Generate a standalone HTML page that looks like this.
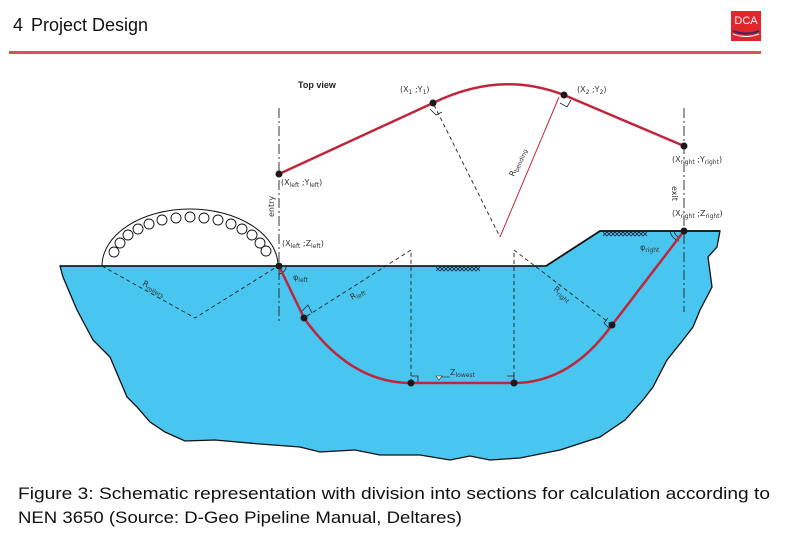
<!DOCTYPE html>
<html><head><meta charset="utf-8"><style>
html,body{margin:0;padding:0;background:#fff;width:792px;height:557px;overflow:hidden}
svg{display:block}
.t{font-family:"DejaVu Sans","Liberation Sans",sans-serif;font-size:8px;fill:#333}
.s{font-size:6px}
</style></head><body>
<svg width="792" height="557" viewBox="0 0 792 557" xmlns="http://www.w3.org/2000/svg">
<!-- header -->
<text x="13" y="31" font-family="Liberation Sans,sans-serif" font-size="18" fill="#111">4</text>
<text x="31" y="31" font-family="Liberation Sans,sans-serif" font-size="18" fill="#111">Project Design</text>
<rect x="9" y="51" width="752" height="3" fill="#d9534f"/>
<rect x="731" y="11" width="30" height="30" fill="#e3262b"/>
<text x="746" y="24" text-anchor="middle" font-family="Liberation Sans,sans-serif" font-size="11" fill="#fff">DCA</text>
<path d="M733 31 Q746 36 759 31" stroke="#2a2a6e" stroke-width="2" fill="none"/>
<path d="M733 34 Q746 39 759 34" stroke="#fff" stroke-width="1" fill="none"/>

<!-- ground -->
<path d="M60 266 L546 266 L600 231 L720 231 L717 247 L708 257 L712 287 L700 310 L693 327 L683 340 L667 360 L653 387 L643 400 L625 420 L600 437 L560 450 L520 458 L490 460 L470 456 L450 460 L420 455 L380 455 L355 450 L320 452 L300 447 L260 444 L215 440 L185 441 L165 432 L150 422 L137 407 L127 397 L110 357 L93 340 L77 310 L63 277 Z" fill="#48c6f0" stroke="#111" stroke-width="1.3"/>
<line x1="60" y1="266" x2="546" y2="266" stroke="#111" stroke-width="1.5"/>
<path d="M546 266 L600 231 L720 231" stroke="#111" stroke-width="1.8" fill="none"/>
<!-- hatch -->
<g stroke="#223" stroke-width="0.8">
<path d="M436 271 l4 -4 l4 4 l4 -4 l4 4 l4 -4 l4 4 l4 -4 l4 4 l4 -4 l4 4 l4 -4" fill="none"/>
<path d="M436 267 l4 4 l4 -4 l4 4 l4 -4 l4 4 l4 -4 l4 4 l4 -4 l4 4 l4 -4 l4 4" fill="none"/>
<path d="M603 236 l4 -4 l4 4 l4 -4 l4 4 l4 -4 l4 4 l4 -4 l4 4 l4 -4 l4 4 l4 -4" fill="none"/>
<path d="M603 232 l4 4 l4 -4 l4 4 l4 -4 l4 4 l4 -4 l4 4 l4 -4 l4 4 l4 -4 l4 4" fill="none"/>
</g>

<!-- rollers -->
<path d="M102 266 A88 57 0 0 1 278 266" stroke="#111" stroke-width="1" fill="none"/>
<g fill="#fff" stroke="#111" stroke-width="0.9">
<circle cx="114" cy="252" r="5"/><circle cx="120" cy="243" r="5"/><circle cx="128" cy="235" r="5"/>
<circle cx="138" cy="229" r="5"/><circle cx="149" cy="224" r="5"/><circle cx="162" cy="220" r="5"/>
<circle cx="176" cy="218" r="5"/><circle cx="190" cy="217" r="5"/><circle cx="204" cy="218" r="5"/>
<circle cx="218" cy="220" r="5"/><circle cx="231" cy="224" r="5"/><circle cx="242" cy="229" r="5"/>
<circle cx="252" cy="235" r="5"/><circle cx="260" cy="243" r="5"/><circle cx="266" cy="251" r="5"/>
</g>
<g stroke="#222" stroke-width="0.9" stroke-dasharray="4,3" fill="none">
<path d="M102 266 L195 318 L278 266"/>
<path d="M307 316 L411 250 L411 383"/>
<path d="M514 383 L514 250 L612 325"/>
<path d="M434 105 L500 237"/>
</g>
<!-- dash-dot lines -->
<g stroke="#222" stroke-width="0.9" stroke-dasharray="10,3,2,3">
<line x1="279" y1="108" x2="279" y2="322"/>
<line x1="684" y1="108" x2="684" y2="312"/>
</g>
<!-- top view -->
<path d="M279 174 L433 103 Q500 70 564 95 L684 146" stroke="#c0263b" stroke-width="2.5" fill="none"/>
<line x1="500" y1="237" x2="559" y2="97" stroke="#c0263b" stroke-width="1"/>
<g fill="none" stroke="#222" stroke-width="0.8">
<path d="M430 109 L436 115 L442 112"/>
<path d="M560 103 L567 107 L571 100"/>
<path d="M302 311 L308 305 L312 313"/>
<path d="M608 318 L604 323 L610 329"/>
<path d="M411 376 h7 v7"/>
<path d="M507 376 h7 v7"/>
<path d="M286 267 A8 8 0 0 1 279 274"/>
<path d="M674 231 A10 10 0 0 0 680 238"/>
<path d="M670 231 A13 13 0 0 0 679 241"/>
</g>
<!-- profile pipe -->
<path d="M279 266 L304 318 Q350 383 411 383 L514 383 Q570 383 612 325 L684 231" stroke="#c0263b" stroke-width="2.5" fill="none"/>
<g fill="#1a1a1a">
<circle cx="279" cy="174" r="3.5"/><circle cx="433" cy="103" r="3.5"/><circle cx="564" cy="95" r="3.5"/><circle cx="684" cy="146" r="3.5"/>
<circle cx="279" cy="266" r="3.5"/><circle cx="304" cy="318" r="3.5"/><circle cx="411" cy="383" r="3.5"/><circle cx="514" cy="383" r="3.5"/><circle cx="612" cy="325" r="3.5"/><circle cx="684" cy="231" r="3.5"/>
</g>
<path d="M436 376 l3 4 l3 -4 z" fill="#fff" stroke="#222" stroke-width="0.6"/>
<line x1="442" y1="377" x2="450" y2="377" stroke="#222" stroke-width="0.6"/>

<!-- labels -->
<text x="298" y="88" font-family="Liberation Sans,sans-serif" font-size="9" font-weight="bold" fill="#222">Top view</text>
<text class="t" x="400" y="92">(X<tspan class="s" dy="2">1</tspan><tspan dy="-2"> ;Y</tspan><tspan class="s" dy="2">1</tspan><tspan dy="-2">)</tspan></text>
<text class="t" x="577" y="92">(X<tspan class="s" dy="2">2</tspan><tspan dy="-2"> ;Y</tspan><tspan class="s" dy="2">2</tspan><tspan dy="-2">)</tspan></text>
<text class="t" x="281" y="185">(X<tspan class="s" dy="2">left</tspan><tspan dy="-2"> ;Y</tspan><tspan class="s" dy="2">left</tspan><tspan dy="-2">)</tspan></text>
<text class="t" x="672" y="162">(X<tspan class="s" dy="2">right</tspan><tspan dy="-2"> ;Y</tspan><tspan class="s" dy="2">right</tspan><tspan dy="-2">)</tspan></text>
<text class="t" x="672" y="216">(X<tspan class="s" dy="2">right</tspan><tspan dy="-2"> ;Z</tspan><tspan class="s" dy="2">right</tspan><tspan dy="-2">)</tspan></text>
<text class="t" x="282" y="246">(X<tspan class="s" dy="2">left</tspan><tspan dy="-2"> ;Z</tspan><tspan class="s" dy="2">left</tspan><tspan dy="-2">)</tspan></text>
<text class="t" transform="translate(274,217) rotate(-90)">entry</text>
<text class="t" transform="translate(672,186) rotate(90)">exit</text>
<text class="t" transform="translate(514,177) rotate(-67)">R<tspan class="s" dy="2">bending</tspan></text>
<text class="t" transform="translate(142,285) rotate(28)">R<tspan class="s" dy="2">rollers</tspan></text>
<text class="t" transform="translate(352,300) rotate(-30)">R<tspan class="s" dy="2">left</tspan></text>
<text class="t" transform="translate(553,290) rotate(38)">R<tspan class="s" dy="2">right</tspan></text>
<text class="t" x="293" y="280">φ<tspan class="s" dy="2">left</tspan></text>
<text class="t" x="640" y="250">φ<tspan class="s" dy="2">right</tspan></text>
<text class="t" x="450" y="375">Z<tspan class="s" dy="2">lowest</tspan></text>

<!-- caption -->
<text x="18" y="499" font-family="Liberation Sans,sans-serif" font-size="17" fill="#111" textLength="752" lengthAdjust="spacingAndGlyphs">Figure 3: Schematic representation with division into sections for calculation according to</text>
<text x="18" y="523" font-family="Liberation Sans,sans-serif" font-size="17" fill="#111" textLength="444" lengthAdjust="spacingAndGlyphs">NEN 3650 (Source: D-Geo Pipeline Manual, Deltares)</text>
</svg>
</body></html>
